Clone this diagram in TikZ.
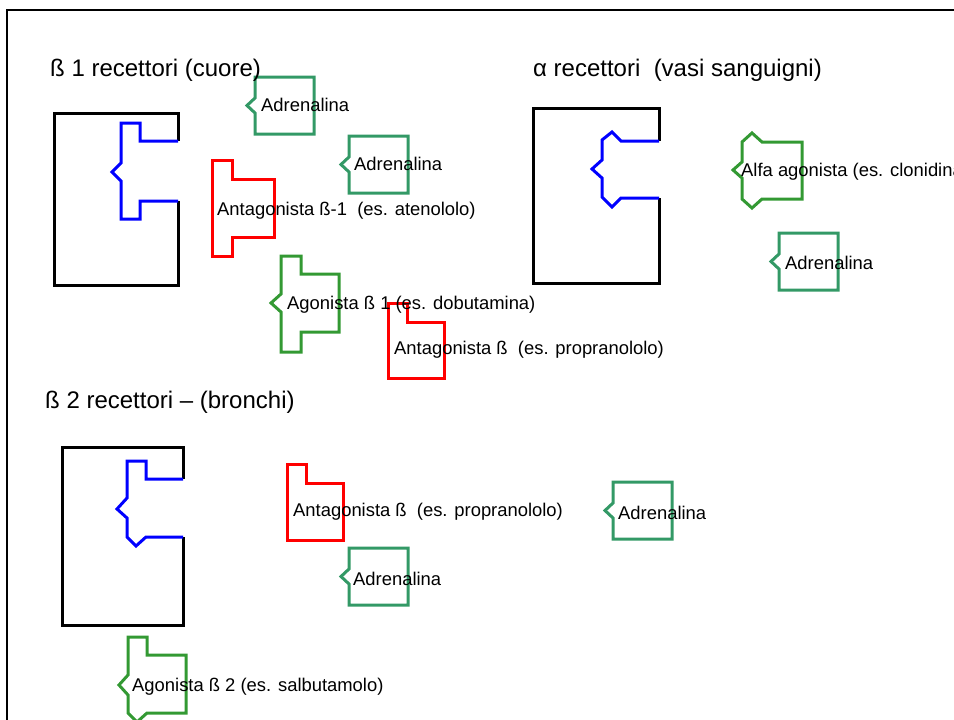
\documentclass[tikz,border=0pt]{standalone}
\usepackage{fontspec}
\setmainfont{Liberation Sans}
\definecolor{adrgreen}{RGB}{51,153,102}
\definecolor{agogreen}{RGB}{51,153,51}
\tikzset{
  frame/.style={line width=2pt, black},
  rec/.style={line width=3pt, black, line join=miter},
  site/.style={line width=3pt, blue, line join=miter},
  adr/.style={line width=3pt, adrgreen, line join=miter},
  ago/.style={line width=3pt, agogreen, line join=miter},
  ant/.style={line width=3pt, red, line join=miter},
  lbl/.style={anchor=west, inner sep=0pt, font=\fontsize{18.4}{18.4}\selectfont},
  ttl/.style={anchor=west, inner sep=0pt, font=\fontsize{24}{24}\selectfont},
  adrpic/.pic={\draw[adr] (0,0) -- (59,0) -- (59,57) -- (0,57) -- (0,36) -- (-8,28.5) -- (0,21) -- cycle;}
}
\begin{document}
\begin{tikzpicture}[x=1pt,y=-1pt]
\useasboundingbox (0,0) rectangle (954,720);
\clip (0,0) rectangle (954,720);
\draw[frame] (956,10) -- (7,10) -- (7,722);

% beta1 receptor
\draw[rec] (178,141) -- (178,113) -- (54,113) -- (54,285) -- (178,285) -- (178,201);
\draw[site] (178,141) -- (140,141) -- (140,123) -- (121,123) -- (121,163) -- (112,172) -- (121,181) -- (121,219) -- (140,219) -- (140,201) -- (178,201);

% alpha receptor
\draw[rec] (659,141) -- (659,108) -- (533,108) -- (533,283) -- (659,283) -- (659,198);
\draw[site] (659,141) -- (621,141) -- (612,132) -- (602,140) -- (602,160) -- (592,169) -- (602,178) -- (602,197) -- (612,207) -- (621,198) -- (659,198);

% beta2 receptor
\draw[rec] (183,479) -- (183,447) -- (62,447) -- (62,625) -- (183,625) -- (183,537);
\draw[site] (183,479) -- (146,479) -- (146,461) -- (127,461) -- (127,498) -- (117,509) -- (127,518) -- (127,537) -- (136,546) -- (146,537) -- (183,537);

% adrenalina shapes
\pic at (255,77) {adrpic};
\pic at (349,136) {adrpic};
\pic at (779,233) {adrpic};
\pic at (613,482) {adrpic};
\pic at (349,548) {adrpic};

% antagonist beta-1
\draw[ant] (212,160) -- (232,160) -- (232,179) -- (274,179) -- (274,237) -- (232,237) -- (232,256) -- (212,256) -- cycle;
% agonist beta 1
\draw[ago] (281,256) -- (301,256) -- (301,274) -- (339,274) -- (339,332) -- (301,332) -- (301,352) -- (281,352) -- (281,312) -- (271,303) -- (281,294) -- cycle;
% antagonist beta (propranololo) 1
\draw[ant] (388,303) -- (407,303) -- (407,322) -- (444,322) -- (444,378) -- (388,378) -- cycle;
% alfa agonista
\draw[ago] (742,142) -- (752,133) -- (762,142) -- (802,142) -- (802,199) -- (762,199) -- (752,208) -- (742,199) -- (742,178) -- (733,170) -- (742,162) -- cycle;
% antagonist beta (propranololo) 2
\draw[ant] (287,464) -- (306,464) -- (306,483) -- (343,483) -- (343,540) -- (287,540) -- cycle;
% agonist beta 2
\draw[ago] (128,637) -- (147,637) -- (147,655) -- (186,655) -- (186,713) -- (147,713) -- (137,722) -- (128,713) -- (128,695) -- (119,685) -- (128,675) -- cycle;

% titles
\node[ttl] (t1) at (50,70) {ß 1 recettori (cuore)};
\node[ttl] (t2) at (533,70) {α recettori\ \ (vasi sanguigni)};
\node[ttl] (t3) at (45,402) {ß 2 recettori – (bronchi)};

% labels
\node[lbl] (a1) at (261,105) {Adrenalina};
\node[lbl] (a2) at (354,164) {Adrenalina};
\node[lbl] (an1) at (217,210.5) {Antagonista ß-1\ \ (es. atenololo)};
\node[lbl] (ag1) at (287,304.5) {Agonista ß 1 (es. dobutamina)};
\node[lbl] (an2) at (394,349.5) {Antagonista ß\ \ (es. propranololo)};
\node[lbl] (alf) at (741,171.5) {Alfa agonista (es. clonidina)};
\node[lbl] (a3) at (785,262.5) {Adrenalina};
\node[lbl] (an3) at (293,511.5) {Antagonista ß\ \ (es. propranololo)};
\node[lbl] (a4) at (618,512.5) {Adrenalina};
\node[lbl] (a5) at (353,578.5) {Adrenalina};
\node[lbl] (ag2) at (132,686.5) {Agonista ß 2 (es. salbutamolo)};
\end{tikzpicture}
\end{document}
